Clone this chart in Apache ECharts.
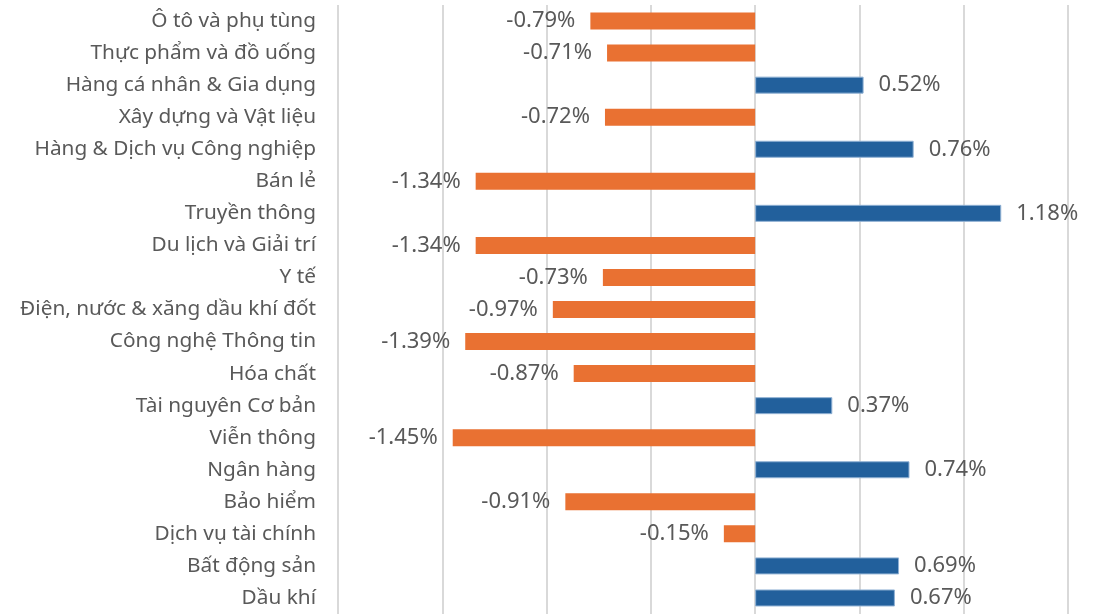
<!DOCTYPE html>
<html>
<head>
<meta charset="utf-8">
<script src="https://cdn.jsdelivr.net/npm/echarts@6/dist/echarts.min.js"></script>
<style>
html,body{margin:0;padding:0;background:#fff;}
#container{width:1101px;height:614px;}
</style>
</head>
<body>
<div id="container"></div>
<script>
var categories = ['Ô tô và phụ tùng', 'Thực phẩm và đồ uống', 'Hàng cá nhân & Gia dụng', 'Xây dựng và Vật liệu',
	'Hàng & Dịch vụ Công nghiệp', 'Bán lẻ', 'Truyền thông', 'Du lịch và Giải trí', 'Y tế',
	'Điện, nước & xăng dầu khí đốt', 'Công nghệ Thông tin', 'Hóa chất', 'Tài nguyên Cơ bản',
	'Viễn thông', 'Ngân hàng', 'Bảo hiểm', 'Dịch vụ tài chính', 'Bất động sản', 'Dầu khí'];
var values = [-0.79, -0.71, 0.52, -0.72, 0.76, -1.34, 1.18, -1.34, -0.73, -0.97, -1.39, -0.87, 0.37,
	-1.45, 0.74, -0.91, -0.15, 0.69, 0.67];

var orange = '#E97132';
var blue = '#22609C';

var myChart = echarts.init(document.getElementById('container'));
var option = {
	backgroundColor: '#fff',
	animation: false,
	textStyle: { fontFamily: '"Noto Sans", sans-serif' },
	grid: { left: 338, right: 33, top: 5, bottom: -3 },
	xAxis: {
		type: 'value',
		min: -2,
		max: 1.5,
		interval: 0.5,
		axisLabel: { show: false },
		axisLine: { show: false },
		axisTick: { show: false },
		splitLine: { lineStyle: { color: '#d9d9d9', width: 2 } }
	},
	yAxis: {
		type: 'category',
		inverse: true,
		data: categories,
		axisLine: { show: false, onZero: false },
		axisTick: { show: false },
		axisLabel: { color: '#595959', fontSize: 20.8, margin: 22 }
	},
	series: [{
		type: 'bar',
		barWidth: 17,
		data: values.map(function (v) {
			var neg = v < 0;
			return {
				value: v,
				itemStyle: neg ? { color: orange } : { color: blue, borderColor: '#8fb0d3', borderWidth: 1 },
				label: {
					show: true,
					position: neg ? 'left' : 'right',
					distance: 15,
					color: '#595959',
					fontSize: 22,
					formatter: v.toFixed(2) + '%'
				}
			};
		})
	}]
};
myChart.setOption(option, true);
</script>
</body>
</html>
